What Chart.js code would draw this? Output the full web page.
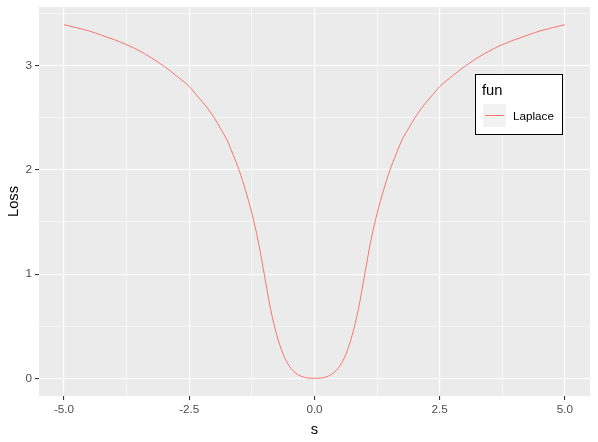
<!DOCTYPE html>
<html>
<head>
<meta charset="utf-8">
<script src="https://cdn.jsdelivr.net/npm/chart.js@4"></script>
<style>
  body { margin: 0; background: #fff; }
</style>
</head>
<body>
<canvas id="myChart" width="598" height="442"></canvas>
<script>
// values
var sValues = [-5, -4.75, -4.5, -4.25, -4, -3.75, -3.5, -3.25, -3, -2.75,
  -2.5, -2.375, -2.25, -2.125, -2, -1.875, -1.75, -1.625, -1.5, -1.375, -1.25, -1.125,
  -1, -0.875, -0.75, -0.625, -0.5, -0.375, -0.25, -0.125,
  0, 0.125, 0.25, 0.375, 0.5, 0.625, 0.75, 0.875, 1,
  1.125, 1.25, 1.375, 1.5, 1.625, 1.75, 1.875, 2, 2.125, 2.25, 2.375, 2.5,
  2.75, 3, 3.25, 3.5, 3.75, 4, 4.25, 4.5, 4.75, 5];
var lossValues = [3.393, 3.364, 3.333, 3.292, 3.25, 3.201, 3.144, 3.073, 2.993, 2.90,
  2.80, 2.73, 2.66, 2.585, 2.497, 2.395, 2.29, 2.145, 1.99, 1.80, 1.583, 1.32,
  0.99, 0.66, 0.41, 0.23, 0.114, 0.05, 0.016, 0.002,
  0, 0.002, 0.016, 0.05, 0.114, 0.23, 0.41, 0.66, 0.99,
  1.32, 1.583, 1.80, 1.99, 2.145, 2.29, 2.395, 2.497, 2.585, 2.66, 2.73, 2.80,
  2.90, 2.993, 3.073, 3.144, 3.201, 3.25, 3.292, 3.333, 3.364, 3.393];
var xTicks = [-5, -3.75, -2.5, -1.25, 0, 1.25, 2.5, 3.75, 5];
var xMajor = [-5, -2.5, 0, 2.5, 5];
var yTicks = [0, 0.5, 1, 1.5, 2, 2.5, 3, 3.5];
var yMajor = [0, 1, 2, 3];

var points = sValues.map(function (s, i) { return { x: s, y: lossValues[i] }; });

function isMajor(list, v) { return list.indexOf(v) !== -1; }

var panelBg = {
  id: 'panelBg',
  beforeDraw: function (chart) {
    var a = chart.chartArea, c = chart.ctx;
    c.save();
    c.fillStyle = '#EBEBEB';
    c.fillRect(a.left, a.top, a.right - a.left, a.bottom - a.top);
    c.restore();
  }
};

var ggLegend = {
  id: 'ggLegend',
  afterDraw: function (chart) {
    var c = chart.ctx;
    c.save();
    c.fillStyle = '#fff';
    c.fillRect(475.5, 74.5, 87, 60);
    c.strokeStyle = '#000';
    c.lineWidth = 1;
    c.strokeRect(475.5, 74.5, 87, 60);
    c.fillStyle = '#000';
    c.font = '14.7px "Liberation Sans", Arial, sans-serif';
    c.textBaseline = 'middle';
    c.fillText('fun', 482, 91);
    c.fillStyle = '#F2F2F2';
    c.fillRect(483, 104, 23, 23);
    c.strokeStyle = '#F8766D';
    c.beginPath();
    c.moveTo(485, 115.5);
    c.lineTo(504, 115.5);
    c.stroke();
    c.fillStyle = '#000';
    c.font = '11.7px "Liberation Sans", Arial, sans-serif';
    c.fillText(chart.data.datasets[0].label, 513, 116.5);
    c.restore();
  }
};

var ctx = document.getElementById('myChart').getContext('2d');
var myChart = new Chart(ctx, {
  type: 'line',
  data: {
    datasets: [{
      label: 'Laplace',
      data: points,
      borderColor: '#F8766D',
      borderWidth: 1,
      pointRadius: 0,
      fill: false,
      cubicInterpolationMode: 'monotone'
    }]
  },
  options: {
    responsive: false,
    animation: false,
    layout: { padding: { left: 0, top: 7, right: 8, bottom: 0 } },
    plugins: { legend: { display: false }, tooltip: { enabled: false } },
    scales: {
      x: {
        type: 'linear',
        min: -5.5,
        max: 5.5,
        afterBuildTicks: function (scale) {
          scale.ticks = xTicks.map(function (v) { return { value: v }; });
        },
        afterFit: function (scale) {
          scale.height = 46;
          scale.paddingLeft = 0;
          scale.paddingRight = 0;
        },
        border: { display: false },
        grid: {
          color: '#FFFFFF',
          lineWidth: function (c) { return isMajor(xMajor, c.tick.value) ? 1.1 : 0.55; },
          tickColor: function (c) { return isMajor(xMajor, c.tick.value) ? '#333333' : 'rgba(0,0,0,0)'; },
          tickLength: 4
        },
        ticks: {
          padding: 3,
          color: '#4D4D4D',
          maxRotation: 0,
          font: { family: '"Liberation Sans", Arial, sans-serif', size: 11.7 },
          callback: function (v) { return isMajor(xMajor, v) ? v.toFixed(1) : ''; }
        },
        title: {
          display: true,
          text: 's',
          color: '#000',
          padding: { top: 0, bottom: 3 },
          font: { family: '"Liberation Sans", Arial, sans-serif', size: 14.7 }
        }
      },
      y: {
        min: -0.17,
        max: 3.563,
        afterBuildTicks: function (scale) {
          scale.ticks = yTicks.map(function (v) { return { value: v }; });
        },
        afterFit: function (scale) {
          scale.width = 39;
          scale.paddingTop = 0;
          scale.paddingBottom = 0;
        },
        border: { display: false },
        grid: {
          color: '#FFFFFF',
          lineWidth: function (c) { return isMajor(yMajor, c.tick.value) ? 1.1 : 0.55; },
          tickColor: function (c) { return isMajor(yMajor, c.tick.value) ? '#333333' : 'rgba(0,0,0,0)'; },
          tickLength: 4
        },
        ticks: {
          padding: 3,
          color: '#4D4D4D',
          font: { family: '"Liberation Sans", Arial, sans-serif', size: 11.7 },
          callback: function (v) { return isMajor(yMajor, v) ? String(v) : ''; }
        },
        title: {
          display: true,
          text: 'Loss',
          color: '#000',
          padding: { top: 5, bottom: 0 },
          font: { family: '"Liberation Sans", Arial, sans-serif', size: 14.7 }
        }
      }
    }
  },
  plugins: [panelBg, ggLegend]
});
</script>
</body>
</html>
